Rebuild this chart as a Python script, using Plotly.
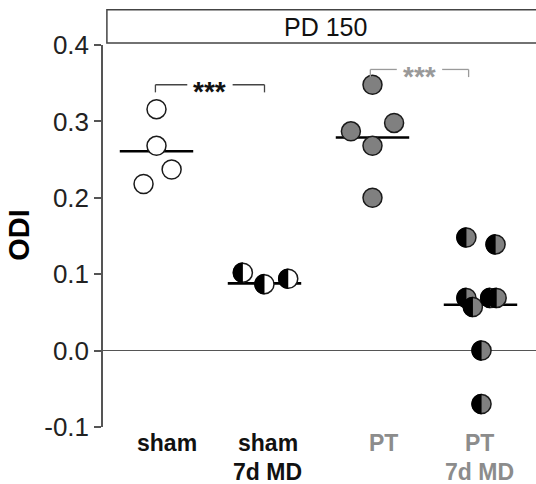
import plotly.graph_objects as go

# ---------------- data ----------------
groups = ["sham", "sham 7d MD", "PT", "PT 7d MD"]
group_pos = [1, 2, 3, 4]
label_line1 = ["sham", "sham", "PT", "PT"]
label_line2 = ["", "7d MD", "", "7d MD"]
label_pos = [1.095, 2.03, 3.10, 3.99]

sham_y = [0.316, 0.268, 0.237, 0.218]
sham_dx = [0.0, 0.0, 0.14, -0.12]
sham7_y = [0.102, 0.087, 0.094]
sham7_dx = [-0.20, 0.0, 0.22]
pt_y = [0.348, 0.287, 0.298, 0.268, 0.200]
pt_dx = [0.0, -0.20, 0.20, 0.0, 0.0]
pt7_y = [0.148, 0.139, 0.069, 0.057, 0.069, 0.069, 0.0, -0.070]
pt7_dx = [-0.13, 0.14, -0.13, -0.07, 0.09, 0.15, 0.01, 0.01]

group_means = [0.261, 0.088, 0.279, 0.060]

# significance brackets: (left, right, level, label)
brk_left = [0.99, 2.98]
brk_right = [2.00, 3.89]
brk_level = [0.348, 0.368]
brk_text = ["***", "***"]

y_ticks = [-0.1, 0.0, 0.1, 0.2, 0.3, 0.4]
y_ticktext = ["-0.1", "0.0", "0.1", "0.2", "0.3", "0.4"]
panel_title = "PD 150"

# ---------------- styles ----------------
FONT = "Liberation Sans, Arial, sans-serif"
GREY = "#808080"
OUT = "#1a1a1a"
PTTXT = "#8c8c8c"
MSIZE = 19
MLW = 1.5
HALF_R = 10.3
MEAN_HALF = 0.34
LABEL_SIZE = 23
text_col = ["#111111", "#111111", PTTXT, PTTXT]
brk_col = ["#444444", "#9a9a9a"]
star_col = ["#111111", "#999999"]

fig = go.Figure()

# mean lines (behind the points)
for g, m in zip(group_pos, group_means):
    fig.add_trace(go.Scatter(x=[g - MEAN_HALF, g + MEAN_HALF], y=[m, m], mode="lines",
                             line=dict(color="#000000", width=2.6), hoverinfo="skip",
                             showlegend=False))

def pts(g, dx, ys, fill):
    return go.Scatter(x=[g + d for d in dx], y=ys, mode="markers",
                      marker=dict(size=MSIZE, color=fill, line=dict(color=OUT, width=MLW)),
                      showlegend=False, cliponaxis=False)

fig.add_trace(pts(group_pos[0], sham_dx, sham_y, "#ffffff"))
fig.add_trace(pts(group_pos[1], sham7_dx, sham7_y, "#ffffff"))
fig.add_trace(pts(group_pos[2], pt_dx, pt_y, GREY))
fig.add_trace(pts(group_pos[3], pt7_dx, pt7_y, GREY))

# left-half black fill for the half-filled markers
k = 0.5523 * HALF_R
r = HALF_R
half_path = (f"M 0,{-r} C {-k},{-r} {-r},{-k} {-r},0 "
             f"C {-r},{k} {-k},{r} 0,{r} Z")
for g, dx, ys in [(group_pos[1], sham7_dx, sham7_y), (group_pos[3], pt7_dx, pt7_y)]:
    for d, yv in zip(dx, ys):
        fig.add_shape(type="path", xref="x", yref="y", xsizemode="pixel", ysizemode="pixel",
                      xanchor=g + d, yanchor=yv, path=half_path,
                      fillcolor="#000000", line=dict(width=0), layer="above")

# brackets
for i in range(len(brk_left)):
    x0, x1, lv = brk_left[i], brk_right[i], brk_level[i]
    mid = (x0 + x1) / 2
    gap = 0.21
    lc = dict(color=brk_col[i], width=1.3)
    for a, b in [(x0, mid - gap), (mid + gap, x1)]:
        fig.add_shape(type="line", xref="x", yref="y", x0=a, x1=b, y0=lv, y1=lv, line=lc)
    for xe in (x0, x1):
        fig.add_shape(type="line", xref="x", yref="y", x0=xe, x1=xe, y0=lv, y1=lv - 0.010, line=lc)
    fig.add_annotation(x=mid, y=lv, xref="x", yref="y", text=f"<b>{brk_text[i]}</b>",
                       showarrow=False, font=dict(family=FONT, size=28, color=star_col[i]),
                       xanchor="center", yanchor="middle", yshift=-7)

# panel title box
fig.add_shape(type="rect", xref="paper", yref="paper", x0=0.009, x1=1.02, y0=1.005, y1=1.092,
              line=dict(color="#444444", width=1.5), fillcolor="rgba(0,0,0,0)")
fig.add_annotation(x=0.513, y=1.048, xref="paper", yref="paper", text=panel_title,
                   showarrow=False, font=dict(family=FONT, size=25, color="#111111"),
                   xanchor="center", yanchor="middle")

# category labels
for xp, l1, l2, c in zip(label_pos, label_line1, label_line2, text_col):
    fig.add_annotation(x=xp, y=-0.042, xref="x", yref="paper", text=f"<b>{l1}</b>",
                       showarrow=False, font=dict(family=FONT, size=LABEL_SIZE, color=c),
                       xanchor="center", yanchor="middle")
    if l2:
        fig.add_annotation(x=xp, y=-0.117, xref="x", yref="paper", text=f"<b>{l2}</b>",
                           showarrow=False, font=dict(family=FONT, size=LABEL_SIZE, color=c),
                           xanchor="center", yanchor="middle")

# y title
fig.add_annotation(x=0, y=0.503, xref="paper", yref="paper", text="<b>ODI</b>",
                   textangle=-90, showarrow=False, xshift=-84,
                   font=dict(family=FONT, size=29, color="#000000"),
                   xanchor="center", yanchor="middle")

fig.update_xaxes(range=[0.5046, 4.514], showgrid=False, zeroline=False, showline=False,
                 showticklabels=False, ticks="")
fig.update_yaxes(range=[-0.1, 0.4], tickvals=y_ticks, ticktext=y_ticktext, showgrid=False,
                 zeroline=True, zerolinecolor="#555555", zerolinewidth=1.2,
                 showline=True, linecolor="#555555", linewidth=1.5,
                 ticks="outside", ticklen=7, tickwidth=1.5, tickcolor="#555555",
                 tickfont=dict(family=FONT, size=26, color="#222222"))

fig.update_layout(width=536, height=484, autosize=False,
                  margin=dict(l=103, r=0, t=45, b=57),
                  paper_bgcolor="#ffffff", plot_bgcolor="#ffffff",
                  font=dict(family=FONT), hovermode=False)

fig.write_html("out.html", config={"displayModeBar": False},
               post_script="document.body.style.margin='0';document.body.style.overflow='hidden';")
